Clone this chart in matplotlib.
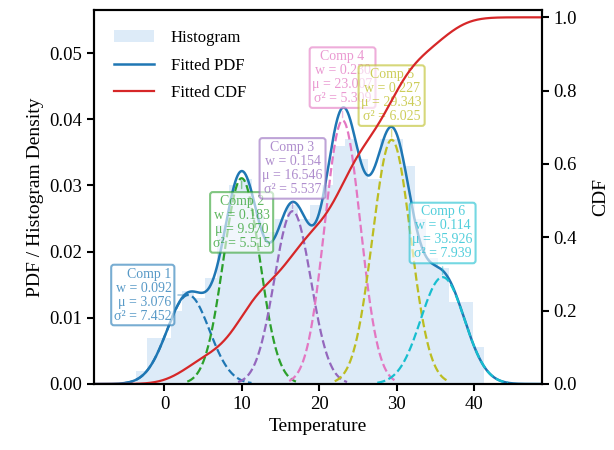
import numpy as np
import matplotlib
matplotlib.use("Agg")
import matplotlib.pyplot as plt
from math import erf

plt.rcParams['font.family'] = ['Liberation Serif', 'DejaVu Serif']
plt.rcParams['mathtext.fontset'] = 'stix'

# GMM components
weights = [0.092, 0.183, 0.154, 0.230, 0.227, 0.114]
means = [3.076, 9.970, 16.546, 23.007, 29.343, 35.926]
variances = [7.452, 5.515, 5.537, 5.309, 6.025, 7.939]

# Histogram (30 bins; densities)
hist_start = -3.7
hist_width = 1.5
hist_density = [0.002, 0.007, 0.007, 0.011, 0.014, 0.013, 0.016, 0.024, 0.030, 0.031,
                0.026, 0.023, 0.025, 0.027, 0.025, 0.027, 0.030, 0.036, 0.037, 0.034,
                0.031, 0.037, 0.037, 0.033, 0.025, 0.019, 0.0175, 0.0124, 0.0124, 0.0056]

xticks = [0, 10, 20, 30, 40]

colors = plt.cm.tab10(np.linspace(0, 1, 6))

x = np.linspace(-9.1, 48.7, 1200)
sds = np.sqrt(variances)
comp_pdfs = [w * np.exp(-(x - m) ** 2 / (2 * v)) / np.sqrt(2 * np.pi * v)
             for w, m, v in zip(weights, means, variances)]
pdf = np.sum(comp_pdfs, axis=0)
verf = np.vectorize(erf)
cdf = np.sum([w * 0.5 * (1 + verf((x - m) / np.sqrt(2 * v)))
              for w, m, v in zip(weights, means, variances)], axis=0)

fig = plt.figure(figsize=(6.14, 4.5), dpi=100)
ax = fig.add_axes([94 / 614, 1 - 384 / 450, (541.5 - 94) / 614, (384 - 10) / 450])

edges = hist_start + hist_width * np.arange(len(hist_density) + 1)
ax.hist(edges[:-1], bins=edges, weights=hist_density, color='#DDEBF8',
        label='Histogram', zorder=1)
ax.plot(x, pdf, color='#1f77b4', lw=1.8, label='Fitted PDF', zorder=2)

offsets = [(-12, 0), (0, -12), (0, 11), (0, 11), (0, 12), (0, 12)]
has = ['right', 'center', 'center', 'center', 'center', 'center']
vas = ['center', 'top', 'bottom', 'bottom', 'bottom', 'bottom']
for i, (w, m, v, s) in enumerate(zip(weights, means, variances, sds)):
    mask = (x >= m - 3 * s) & (x <= m + 3 * s)
    ax.plot(x[mask], comp_pdfs[i][mask], ls='--', color=colors[i], lw=1.6, zorder=3)
    peak = w / np.sqrt(2 * np.pi * v)
    txt = f"Comp {i + 1}\nw = {w:.3f}\nμ = {m:.3f}\nσ² = {v:.3f}"
    ax.annotate(txt, xy=(m, peak), xytext=offsets[i], textcoords='offset points',
                ha=has[i], va=vas[i], fontsize=10, color=colors[i], alpha=0.75,
                linespacing=1.1,
                bbox=dict(boxstyle='round,pad=0.2', fc='white', ec=colors[i], lw=1.5, alpha=0.6),
                arrowprops=dict(arrowstyle='-', color=colors[i], alpha=0.5, lw=1),
                zorder=4)

ax.set_xlim(-9.1, 48.7)
ax.set_ylim(0, 0.0565)
ax.set_xticks(xticks)
ax.set_xlabel('Temperature', fontsize=14)
ax.set_ylabel('PDF / Histogram Density', fontsize=14)
ax.tick_params(labelsize=13.5, width=1.5, length=5)
for sp in ax.spines.values():
    sp.set_linewidth(1.5)

ax2 = ax.twinx()
ax2.plot(x, cdf, color='#d62728', lw=1.6, label='Fitted CDF')
ax2.set_ylim(0, 1.02)
ax2.set_ylabel('CDF', fontsize=14, labelpad=11)
ax2.tick_params(labelsize=13.5, width=1.5, length=5)
for sp in ax2.spines.values():
    sp.set_linewidth(1.5)

h1, l1 = ax.get_legend_handles_labels()
h2, l2 = ax2.get_legend_handles_labels()
ax2.legend(h1 + h2, l1 + l2, loc='upper left', frameon=False, fontsize=12,
           handlelength=2.4, handletextpad=1.0, labelspacing=0.7, borderaxespad=0.8)

fig.savefig('out.png', dpi=100)
